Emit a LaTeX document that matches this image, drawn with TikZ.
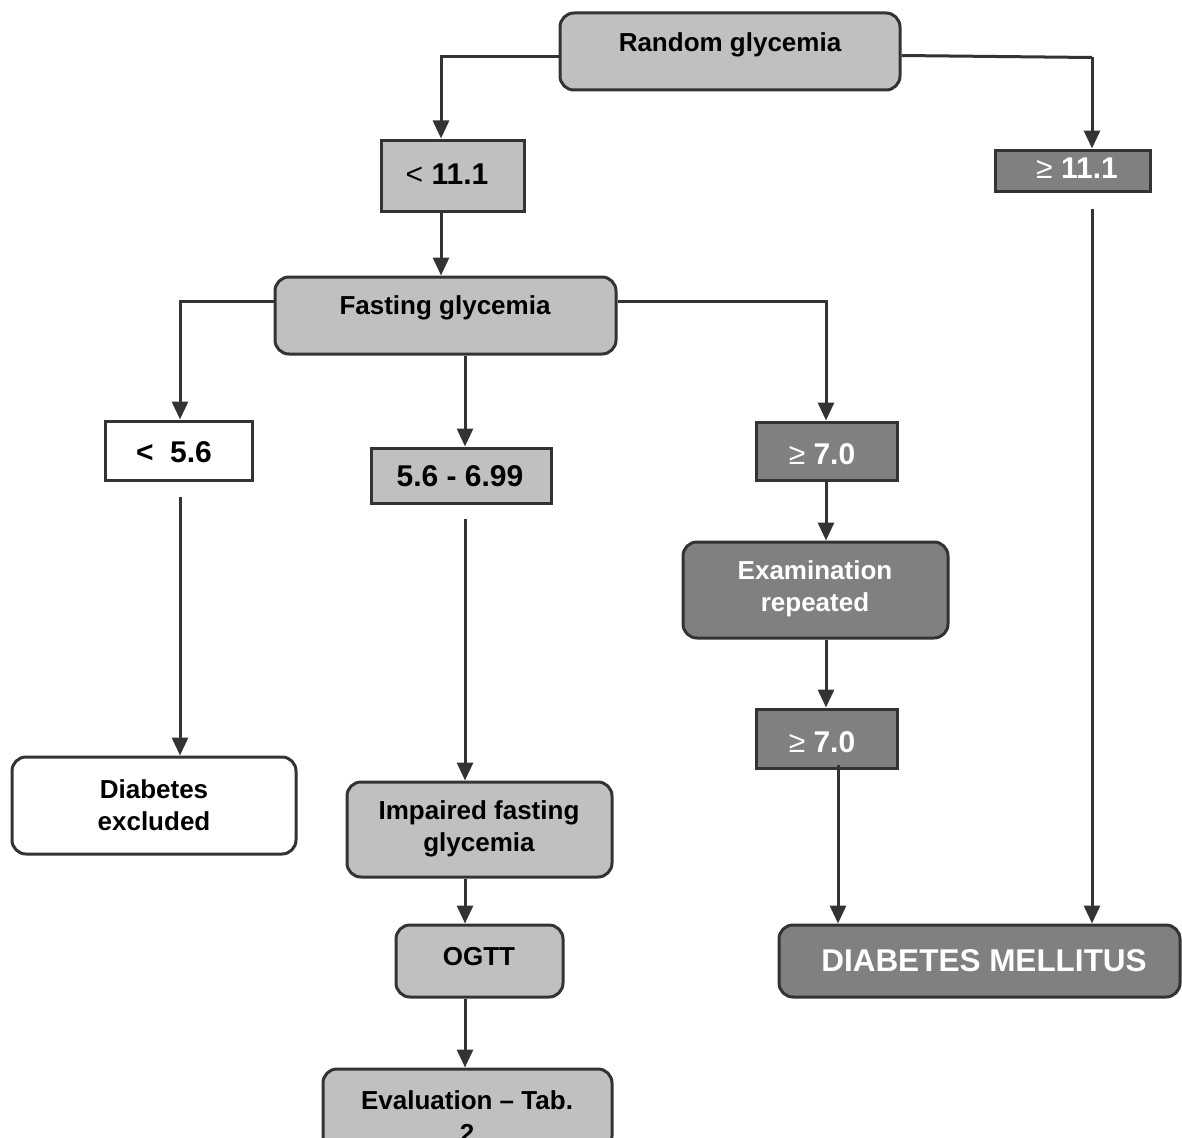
\documentclass[tikz,border=0pt]{standalone}
\usepackage{fontspec}
\setmainfont{Liberation Sans}
\usetikzlibrary{arrows.meta}
\definecolor{lg}{HTML}{C0C0C0}
\definecolor{dg}{HTML}{808080}
\definecolor{edge}{HTML}{333333}
\begin{document}
\begin{tikzpicture}[x=1pt,y=-1pt,
  box/.style={draw=edge, line width=3pt, inner sep=0pt},
  rbox/.style={box, rounded corners=14pt},
  arr/.style={draw=edge, line width=3pt, -{Triangle[width=16pt,length=18pt]}},
  ln/.style={draw=edge, line width=3pt},
  txt/.style={font=\bfseries\fontsize{26}{32}\selectfont, align=center, inner sep=0pt},
  num/.style={font=\bfseries\fontsize{30}{34}\selectfont, inner sep=0pt},
]
\useasboundingbox (0,0) rectangle (1182,1137);
\clip (0,0) rectangle (1182,1137);
% boxes
\node[rbox, fill=lg, minimum width=340pt, minimum height=77pt] (rg) at (730,51.5) {};
\node[txt] (rgT) at (730,45) {Random glycemia};
\node[box, fill=lg, minimum width=143pt, minimum height=71pt] (lt111) at (452.5,175.5) {};
\node[num] (lt111T) at (447,174) {\mdseries<\ \bfseries11.1};
\node[box, fill=dg, minimum width=155pt, minimum height=41pt] (ge111) at (1072.5,170.5) {};
\node[num, text=white] (ge111T) at (1077,168) {\mdseries≥\ \bfseries11.1};
\node[rbox, fill=lg, minimum width=341pt, minimum height=77pt] (fg) at (445.5,315.5) {};
\node[txt] (fgT) at (445,308) {Fasting glycemia};
\node[box, fill=white, minimum width=147pt, minimum height=59pt] (lt56) at (178.5,450.5) {};
\node[num] (lt56T) at (174,452) {<\ \ 5.6};
\node[box, fill=lg, minimum width=180pt, minimum height=55pt] (mid) at (461,475.5) {};
\node[num] (midT) at (460,476) {5.6 - 6.99};
\node[box, fill=dg, minimum width=141pt, minimum height=58pt] (ge70a) at (826.5,451) {};
\node[num, text=white] (ge70aT) at (822,454) {\mdseries≥\ \bfseries7.0};
\node[rbox, fill=dg, minimum width=265pt, minimum height=96pt] (exam) at (815.5,590) {};
\node[txt, text=white] (examT) at (815,589) {Examination\\repeated};
\node[box, fill=dg, minimum width=141pt, minimum height=59pt] (ge70b) at (826.5,738.5) {};
\node[num, text=white] (ge70bT) at (822,742) {\mdseries≥\ \bfseries7.0};
\node[rbox, fill=white, minimum width=284pt, minimum height=97pt] (de) at (154,805.5) {};
\node[txt] (deT) at (154,805) {Diabetes\\excluded};
\node[rbox, fill=lg, minimum width=265pt, minimum height=95pt] (ifg) at (479.5,829.5) {};
\node[txt] (ifgT) at (479,829) {Impaired fasting\\glycemia};
\node[rbox, fill=lg, minimum width=167pt, minimum height=72pt] (ogtt) at (479.5,961) {};
\node[txt] (ogttT) at (479,957) {OGTT};
\node[rbox, fill=lg, minimum width=289pt, minimum height=81pt] (ev) at (467.5,1109.5) {};
\node[txt, font=\bfseries\fontsize{26}{33}\selectfont, anchor=north] (evT) at (467,1090) {Evaluation – Tab.\\2};
\node[rbox, fill=dg, minimum width=401pt, minimum height=72pt] (dm) at (979.5,961) {};
\node[font=\bfseries\fontsize{31.5}{36}\selectfont, text=white, inner sep=0pt] (dmT) at (984,961) {DIABETES MELLITUS};
% connectors
\draw[arr] ([yshift=-5pt]rg.west) -| (lt111.north -| 441,0);
\draw[ln] ([yshift=-4pt]rg.east) -- ([yshift=-6pt]rg.east -| 1092,0);
\draw[arr] ([yshift=-6pt]rg.east -| 1092,0) -- (ge111.north -| 1092,0);
\draw[arr] (lt111.south -| 441,0) -- (fg.north -| 441,0);
\draw[arr] ([yshift=14pt]fg.west) -| (lt56.north -| 180,0);
\draw[arr] (fg.south -| 465,0) -- (mid.north -| 465,0);
\draw[arr] ([yshift=14pt]fg.east) -| (ge70a.north -| 826,0);
\path (lt56.south -| 180,0) coordinate (a1);
\draw[arr] ([yshift=-15pt]a1) -- (de.north -| a1);
\path (mid.south -| 465,0) coordinate (a2);
\draw[arr] ([yshift=-14pt]a2) -- (ifg.north -| a2);
\draw[arr] (ifg.south -| 465,0) -- (ogtt.north -| 465,0);
\draw[arr] (ogtt.south -| 465,0) -- (ev.north -| 465,0);
\draw[arr] (ge70a.south -| 826,0) -- (exam.north -| 826,0);
\draw[arr] (exam.south -| 826,0) -- (ge70b.north -| 826,0);
\path (ge70b.south -| 838,0) coordinate (a3);
\draw[arr] ([yshift=5pt]a3) -- (dm.north -| a3);
\path (ge111.south -| 1092,0) coordinate (a4);
\draw[arr] ([yshift=-16pt]a4) -- (dm.north -| a4);
\end{tikzpicture}
\end{document}
